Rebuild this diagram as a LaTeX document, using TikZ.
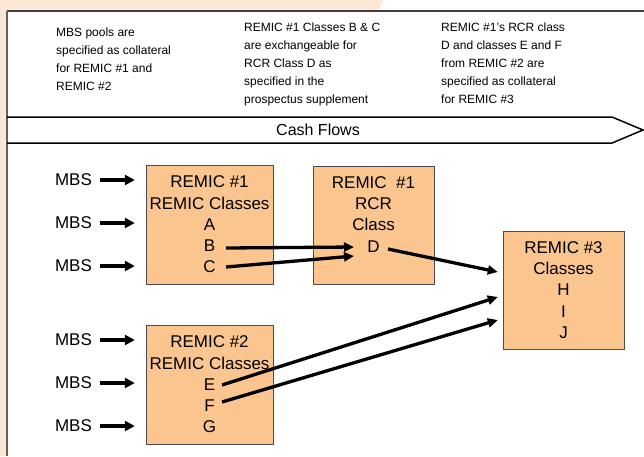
\documentclass[tikz,border=0pt]{standalone}
\usepackage{fontspec}
\setmainfont{Liberation Sans}
\usetikzlibrary{calc,arrows.meta}
\definecolor{remicfill}{HTML}{FAC58F}
\definecolor{pagetint}{HTML}{FDE8D6}
\definecolor{frameedge}{HTML}{6B5E55}
\tikzset{x=1pt, y=-1pt,
  remic box/.style={draw=black!70, fill=remicfill, align=center, inner sep=0pt,
    minimum width=121pt, minimum height=118pt,
    font=\fontsize{17}{21.25}\selectfont},
  mbs label/.style={inner sep=0pt, font=\fontsize{17}{20}\selectfont},
  feed arrow/.style={line width=4pt, -{Triangle[length=10pt,width=10pt]},
    shorten <=8pt, shorten >=11pt},
  class link/.style={line width=3.3pt, -{Triangle[length=10pt,width=9pt]}},
  note text/.style={anchor=north west, align=left, inner sep=0pt,
    font=\fontsize{12}{18}\selectfont}
}
% MBS pool feeding a REMIC box: name, box, vertical offset
\def\MBSFeed#1#2#3{%
  \node[mbs label] (#1) at ($(#2.center)+(-136,#3)$) {MBS};
  \draw[feed arrow] (#1.east) -- (#1.east -| #2.west);
}
\begin{document}
\begin{tikzpicture}
\useasboundingbox (0,0) rectangle (644,456);
% tinted page corner and frame
\fill[pagetint] (0,0) -- (383,0) -- (378,12) -- (7,12) -- (7,456) -- (0,456) -- cycle;
\draw[line width=1.5pt, black!75] (7,11) -- (644,11);
\draw[line width=2pt, frameedge] (6.5,10.5) -- (6.5,456);

\node[note text] (note1) at (56,27.5) {MBS pools are\\specified as collateral\\for REMIC \#1 and\\REMIC \#2};
\node[note text] (note2) at (244,22.5) {REMIC \#1 Classes B \& C\\are exchangeable for\\RCR Class D as\\specified in the\\prospectus supplement};
\node[note text] (note3) at (441,22.5) {REMIC \#1’s RCR class\\D and classes E and F\\from REMIC \#2 are\\specified as collateral\\for REMIC \#3};

% cash flow band
\draw[line width=1.5pt, line join=miter] (7,117) -- (612,117) -- (643,130) -- (612,143) -- (7,143);
\node[font=\fontsize{16}{16}\selectfont] (cash) at (318,130) {Cash Flows};

\node[remic box, minimum width=127pt, minimum height=119pt] (remic1) at (209.5,224.5) {REMIC \#1\\REMIC Classes\\A\\B\\C};
\node[remic box] (rcr) at (373.5,225) {REMIC\ \ \#1\\RCR\\Class\\D\\\mbox{}};
\node[remic box] (remic3) at (563.5,290) {REMIC \#3\\Classes\\H\\I\\J};
\node[remic box, minimum width=127pt, minimum height=119pt] (remic2) at (209.5,384.5) {REMIC \#2\\REMIC Classes\\E\\F\\G};

\MBSFeed{mbs1}{remic1}{-44.5}
\MBSFeed{mbs2}{remic1}{-1.5}
\MBSFeed{mbs3}{remic1}{41.5}
\MBSFeed{mbs4}{remic2}{-44.5}
\MBSFeed{mbs5}{remic2}{-1.5}
\MBSFeed{mbs6}{remic2}{41.5}

% class exchange and re-securitisation links
\coordinate (classB) at ($(remic1.center)+(16.5,23.5)$);
\coordinate (classC) at ($(remic1.center)+(16.5,42.5)$);
\coordinate (rcrInB) at ($(rcr.center)+(-19.5,22)$);
\coordinate (rcrInC) at ($(rcr.center)+(-19.5,31)$);
\coordinate (classD) at ($(rcr.center)+(14.5,24)$);
\coordinate (classE) at ($(remic2.center)+(12.5,0.5)$);
\coordinate (classF) at ($(remic2.center)+(12.5,17.5)$);
\coordinate (r3InD) at ($(remic3.west)+(-5,-18)$);
\coordinate (r3InE) at ($(remic3.west)+(-5,7)$);
\coordinate (r3InF) at ($(remic3.west)+(-5,30)$);

\draw[class link] (classB) -- (rcrInB);
\draw[class link] (classC) -- (rcrInC);
\draw[class link] (classD) -- (r3InD);
\draw[class link] (classE) -- (r3InE);
\draw[class link] (classF) -- (r3InF);
\end{tikzpicture}
\end{document}
